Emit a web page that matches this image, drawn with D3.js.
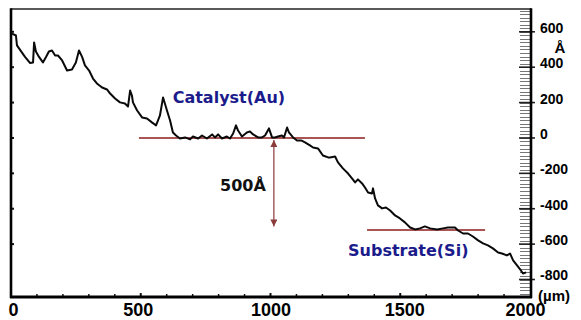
<!DOCTYPE html>
<html>
<head>
<meta charset="utf-8">
<script src="https://cdn.jsdelivr.net/npm/d3@7"></script>
<style>
  html, body { margin: 0; padding: 0; background: #fff; }
  svg { display: block; }
</style>
</head>
<body>
<svg id="chart" width="581" height="320"></svg>
<script>
// Surface profile scan: lateral position (µm) vs. height (Å)
const positionUm = [
  4, 19, 23, 39, 54, 73, 85, 89, 96, 108, 123, 135, 146, 158, 170, 181, 197, 216, 235, 250,
  262, 274, 285, 301, 316, 331, 351, 370, 382, 401, 420, 439, 451, 459, 466, 470, 486, 505, 524, 543,
  559, 574, 586, 593, 601, 613, 624, 636, 651, 671, 690, 701, 721, 736, 755, 775, 786, 798, 813, 832,
  844, 856, 867, 875, 890, 909, 921, 933, 952, 967, 979, 994, 1006, 1017, 1029, 1044, 1052, 1064, 1071, 1087,
  1102, 1118, 1133, 1152, 1164, 1183, 1202, 1222, 1229, 1249, 1260, 1279, 1299, 1314, 1326, 1337, 1353, 1364, 1376, 1391,
  1395, 1403, 1414, 1430, 1445, 1461, 1480, 1499, 1518, 1538, 1557, 1576, 1595, 1615, 1642, 1665, 1684, 1711, 1723, 1742,
  1761, 1780, 1800, 1819, 1838, 1857, 1877, 1892, 1911, 1923, 1935, 1950, 1965, 1973, 1985
];
const heightA = [
  590, 579, 523, 489, 458, 424, 427, 540, 489, 458, 427, 458, 489, 494, 466, 466, 438, 381, 387, 427,
  494, 458, 410, 381, 336, 308, 285, 274, 251, 223, 201, 195, 178, 268, 240, 201, 155, 116, 110, 88,
  71, 127, 229, 195, 155, 99, 31, 14, -3, 3, -8, 8, -3, 14, -3, 20, 3, 20, -3, 8,
  -3, 25, 71, 42, 8, 31, 37, 20, 3, 3, 14, 54, 3, 3, 8, 14, 3, 59, 31, 3,
  -14, -14, -25, -42, -54, -59, -99, -110, -110, -105, -138, -172, -201, -229, -251, -234, -257, -280, -308, -314,
  -285, -342, -381, -398, -393, -410, -438, -455, -477, -506, -517, -511, -500, -511, -517, -511, -506, -506, -523, -540,
  -540, -557, -579, -596, -607, -624, -647, -653, -664, -653, -692, -720, -749, -766, -760
];

// Reference levels drawn as horizontal lines
const catalystLevel = { from: 493, to: 1364, value: 0 };
const substrateLevel = { from: 1372, to: 1827, value: -520 };
// Step height marked by the double arrow
const stepHeight = 500;
const stepAt = 1013;

// Axis ticks
const xTickLabels = [0, 500, 1000, 1500, 2000];
const yTickLabels = [600, 400, 200, 0, -200, -400, -600, -800];

const svg = d3.select("#chart");

const x = d3.scaleLinear().domain([0, 2000]).range([11, 530]);
const y = d3.scaleLinear().domain([600, -800]).range([31.8, 279.5]);

const frame = { left: 11, right: 531, top: 9, bottom: 297 };
const plainNumber = d => String(d);   // plain hyphen-minus, no grouping

// Right-hand graduated scale: fine gray minor ticks every 20 Å
const minor = d3.range(-900, 721, 20);
svg.append("g").selectAll("line").data(minor).join("line")
  .attr("x1", frame.right - 11).attr("x2", frame.right)
  .attr("y1", d => Math.round(y(d)) + 0.5).attr("y2", d => Math.round(y(d)) + 0.5)
  .attr("stroke", "#777").attr("stroke-width", 1);

// Major ticks every 200 Å on the right scale
svg.append("g").selectAll("line").data(yTickLabels).join("line")
  .attr("x1", frame.right - 12).attr("x2", frame.right + 4)
  .attr("y1", d => y(d)).attr("y2", d => y(d))
  .attr("stroke", "#222").attr("stroke-width", 1.6);

// Inside ticks on the left edge
svg.append("g").selectAll("line").data(yTickLabels.filter(v => v > -800)).join("line")
  .attr("x1", frame.left).attr("x2", frame.left + 3)
  .attr("y1", d => y(d)).attr("y2", d => y(d))
  .attr("stroke", "#111").attr("stroke-width", 2);

// Inside ticks along the bottom every 100 µm
svg.append("g").selectAll("line").data(d3.range(100, 2000, 100)).join("line")
  .attr("x1", d => x(d)).attr("x2", d => x(d))
  .attr("y1", frame.bottom).attr("y2", d => frame.bottom - (d % 500 === 0 ? 4 : 3))
  .attr("stroke", "#111").attr("stroke-width", d => d % 500 === 0 ? 2 : 1.5);

// Frame
svg.append("line").attr("x1", frame.left).attr("x2", frame.right)
  .attr("y1", frame.top).attr("y2", frame.top)
  .attr("stroke", "#222").attr("stroke-width", 1.6);
svg.append("line").attr("x1", frame.left).attr("x2", frame.left)
  .attr("y1", frame.top - 0.8).attr("y2", frame.bottom + 1)
  .attr("stroke", "#000").attr("stroke-width", 2.6);
svg.append("line").attr("x1", frame.right).attr("x2", frame.right)
  .attr("y1", frame.top - 0.8).attr("y2", frame.bottom + 1)
  .attr("stroke", "#000").attr("stroke-width", 2.6);
svg.append("line").attr("x1", frame.left - 1).attr("x2", frame.right + 1)
  .attr("y1", frame.bottom).attr("y2", frame.bottom)
  .attr("stroke", "#000").attr("stroke-width", 3);

// Bottom axis labels
const xAxis = svg.append("g")
  .attr("transform", `translate(0,${frame.bottom})`)
  .call(d3.axisBottom(x).tickValues(xTickLabels).tickFormat(plainNumber).tickSize(0).tickPadding(6));
xAxis.select(".domain").remove();
xAxis.selectAll("text")
  .attr("font-family", "'Liberation Sans', Arial, sans-serif")
  .attr("font-weight", "bold").attr("font-size", 18).attr("fill", "#000")
  .attr("transform", d => d === 2000 ? "translate(-5,0)" : d === 500 ? "translate(-3,0)" : d === 0 ? "translate(2,0)" : d === 1500 ? "translate(4,0)" : null);

// Right axis labels
const yAxis = svg.append("g")
  .attr("transform", `translate(${frame.right},0)`)
  .call(d3.axisRight(y).tickValues(yTickLabels).tickFormat(plainNumber).tickSize(0).tickPadding(9));
yAxis.select(".domain").remove();
yAxis.selectAll("text")
  .attr("font-family", "'Liberation Sans', Arial, sans-serif")
  .attr("font-weight", "bold").attr("font-size", 14).attr("fill", "#000")
  .attr("text-anchor", "start")
  .attr("transform", "translate(0,-4)");

// Unit labels
svg.append("text").attr("x", 560).attr("y", 53).attr("text-anchor", "middle")
  .attr("font-family", "'Liberation Sans', Arial, sans-serif")
  .attr("font-weight", "bold").attr("font-size", 15).text("Å");
svg.append("text").attr("x", 538).attr("y", 301)
  .attr("font-family", "'Liberation Sans', Arial, sans-serif")
  .attr("font-weight", "bold").attr("font-size", 15).text("(µm)");

// Level lines
const levelColor = "#8e1c1c";
[catalystLevel, substrateLevel].forEach(l => {
  svg.append("line")
    .attr("x1", x(l.from)).attr("x2", x(l.to))
    .attr("y1", y(l.value)).attr("y2", y(l.value))
    .attr("stroke", levelColor).attr("stroke-width", 1.6);
});

// Profile trace
const profile = positionUm.map((p, i) => [p, heightA[i]]);
svg.append("path")
  .datum(profile)
  .attr("d", d3.line().x(d => x(d[0])).y(d => y(d[1])))
  .attr("fill", "none").attr("stroke", "#0a0a0a")
  .attr("stroke-width", 2).attr("stroke-linejoin", "round");

// Step-height double arrow
const arrowColor = "#8b3b3b";
const defs = svg.append("defs");
defs.append("marker").attr("id", "tip").attr("viewBox", "0 0 10 10")
  .attr("refX", 10).attr("refY", 5).attr("markerWidth", 7).attr("markerHeight", 7)
  .attr("markerUnits", "userSpaceOnUse").attr("orient", "auto-start-reverse")
  .append("path").attr("d", "M0,0 L10,5 L0,10 Z").attr("fill", arrowColor);
svg.append("line")
  .attr("x1", x(stepAt)).attr("x2", x(stepAt))
  .attr("y1", y(catalystLevel.value) + 2).attr("y2", y(catalystLevel.value - stepHeight))
  .attr("stroke", arrowColor).attr("stroke-width", 1.2)
  .attr("marker-start", "url(#tip)").attr("marker-end", "url(#tip)");

// Annotations
const annoFont = "'DejaVu Sans', Verdana, sans-serif";
svg.append("text")
  .attr("x", x(stepAt) - 8).attr("y", y(-298))
  .attr("text-anchor", "end")
  .attr("font-family", annoFont).attr("font-weight", "bold").attr("font-size", 16)
  .attr("fill", "#111").text(`${stepHeight}Å`);
svg.append("text")
  .attr("x", x(623)).attr("y", y(195))
  .attr("font-family", annoFont).attr("font-weight", "bold").attr("font-size", 16)
  .attr("fill", "#1b1b8c").text("Catalyst(Au)");
svg.append("text")
  .attr("x", x(1299)).attr("y", y(-666))
  .attr("font-family", annoFont).attr("font-weight", "bold").attr("font-size", 16)
  .attr("fill", "#1b1b8c").text("Substrate(Si)");
</script>
</body>
</html>
